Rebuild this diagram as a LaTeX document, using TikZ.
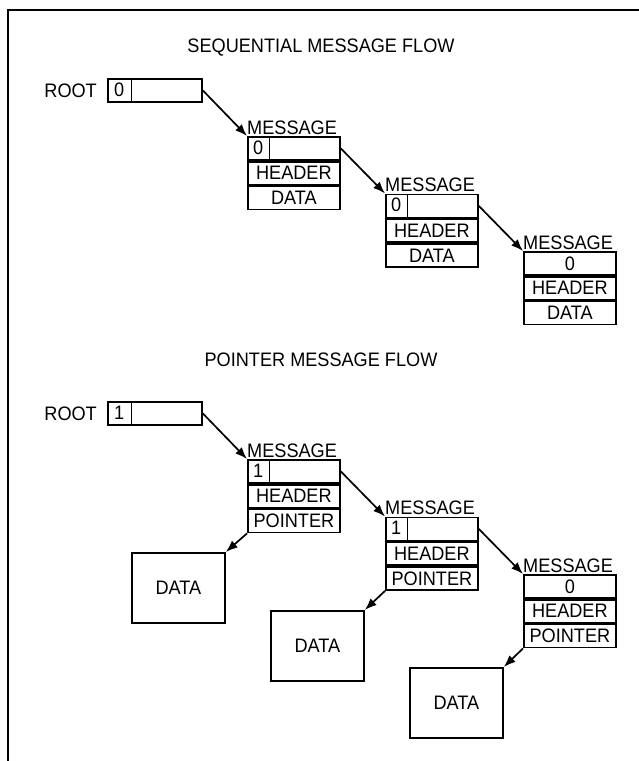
\documentclass[tikz,border=0pt]{standalone}
\usepackage{fontspec}
\setmainfont{Liberation Sans}
\newfontfamily\dgfam[FakeStretch=0.93]{Liberation Sans}
\usetikzlibrary{arrows.meta}
\newcommand\dgfont{\dgfam\fontsize{19.5}{21}\selectfont}
\tikzset{
  cell/.style={draw, line width=1.8pt, inner sep=0pt, minimum height=23pt, anchor=north west, font=\dgfont},
  fcell/.style={cell, minimum width=92pt},
  rcell/.style={cell, minimum width=94pt},
  zlab/.style={inner sep=0pt, minimum height=23pt, anchor=north west, font=\dgfont},
  divline/.style={line width=1.8pt},
  databox/.style={draw, line width=1.8pt, inner sep=0pt, minimum width=93pt, minimum height=70pt, anchor=north west, font=\dgfont},
  lbl/.style={inner sep=0pt, font=\dgfont},
  arr/.style={line width=1.7pt, -{Latex[length=12pt,width=9pt]}},
  frameline/.style={line width=2.5pt}
}
\begin{document}
\begin{tikzpicture}[x=1pt,y=-1pt]
\useasboundingbox (0,0) rectangle (639,761);
\draw[frameline] (8,761) -- (8,10) -- (639,10);

% ---------- Sequential ----------
\node[lbl] (t1) at (321,48) {SEQUENTIAL MESSAGE FLOW};
\node[rcell] (r1a) at (107,78) {};
\node[zlab, minimum width=24pt] (r1z) at (r1a.north west) {0};
\draw[divline] (r1z.north east) -- (r1z.south east);
\node[lbl, anchor=east] (r1l) at ([xshift=-10pt]r1a.west) {ROOT};

% message 1
\node[fcell] (m1a) at (247,136) {};
\node[zlab, minimum width=22pt] (m1z) at (m1a.north west) {0};
\draw[divline] (m1z.north east) -- (m1z.south east);
\node[fcell] (m1h) at (m1a.south west) {HEADER};
\node[fcell] (m1d) at (m1h.south west) {DATA};
\node[lbl, anchor=base west] (m1l) at ([yshift=2pt]m1a.north west) {MESSAGE};

% message 2
\node[fcell] (m2a) at (385,193.5) {};
\node[zlab, minimum width=22pt] (m2z) at (m2a.north west) {0};
\draw[divline] (m2z.north east) -- (m2z.south east);
\node[fcell] (m2h) at (m2a.south west) {HEADER};
\node[fcell] (m2d) at (m2h.south west) {DATA};
\node[lbl, anchor=base west] (m2l) at ([yshift=2pt]m2a.north west) {MESSAGE};

% message 3
\node[fcell] (m3a) at (523,251) {0};
\node[fcell] (m3h) at (m3a.south west) {HEADER};
\node[fcell] (m3d) at (m3h.south west) {DATA};
\node[lbl, anchor=base west] (m3l) at ([yshift=2pt]m3a.north west) {MESSAGE};

\draw[arr] (r1a.east) -- (m1a.north west);
\draw[arr] (m1a.east) -- (m2a.north west);
\draw[arr] (m2a.east) -- (m3a.north west);

% ---------- Pointer ----------
\node[lbl] (t2) at (321,360) {POINTER MESSAGE FLOW};
\node[rcell] (r2a) at (107,401) {};
\node[zlab, minimum width=24pt] (r2z) at (r2a.north west) {1};
\draw[divline] (r2z.north east) -- (r2z.south east);
\node[lbl, anchor=east] (r2l) at ([xshift=-10pt]r2a.west) {ROOT};

% message 1
\node[fcell] (p1a) at (247,459) {};
\node[zlab, minimum width=22pt] (p1z) at (p1a.north west) {1};
\draw[divline] (p1z.north east) -- (p1z.south east);
\node[fcell] (p1h) at (p1a.south west) {HEADER};
\node[fcell] (p1p) at (p1h.south west) {POINTER};
\node[lbl, anchor=base west] (p1l) at ([yshift=2pt]p1a.north west) {MESSAGE};

% message 2
\node[fcell] (p2a) at (385,516.5) {};
\node[zlab, minimum width=22pt] (p2z) at (p2a.north west) {1};
\draw[divline] (p2z.north east) -- (p2z.south east);
\node[fcell] (p2h) at (p2a.south west) {HEADER};
\node[fcell] (p2p) at (p2h.south west) {POINTER};
\node[lbl, anchor=base west] (p2l) at ([yshift=2pt]p2a.north west) {MESSAGE};

% message 3
\node[fcell] (p3a) at (523,574) {0};
\node[fcell] (p3h) at (p3a.south west) {HEADER};
\node[fcell] (p3p) at (p3h.south west) {POINTER};
\node[lbl, anchor=base west] (p3l) at ([yshift=2pt]p3a.north west) {MESSAGE};

% data boxes
\node[databox] (d1) at (131,552) {DATA};
\node[databox] (d2) at (270,610) {DATA};
\node[databox] (d3) at (409,667) {DATA};

\draw[arr] (r2a.east) -- (p1a.north west);
\draw[arr] (p1a.east) -- (p2a.north west);
\draw[arr] (p2a.east) -- (p3a.north west);
\draw[arr] (p1p.south west) -- (d1.north east);
\draw[arr] (p2p.south west) -- (d2.north east);
\draw[arr] (p3p.south west) -- (d3.north east);
\end{tikzpicture}
\end{document}
